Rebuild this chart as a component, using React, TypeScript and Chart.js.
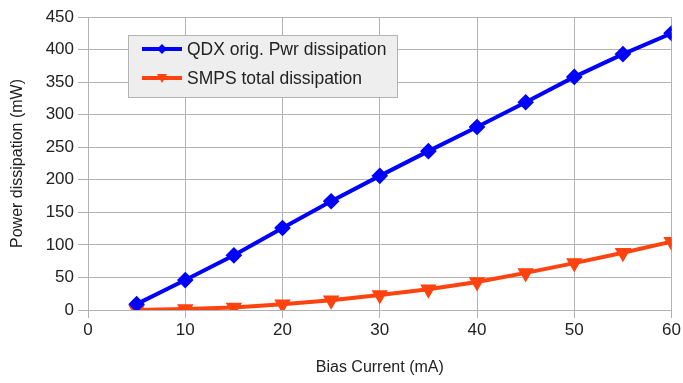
import React, { useEffect, useRef } from "react";
import { Chart, registerables } from "chart.js";

Chart.register(...registerables);

const biasCurrent = [5, 10, 15, 20, 25, 30, 35, 40, 45, 50, 55, 60];
const qdxPower = [9, 46, 84, 126, 167, 206, 244, 281, 319, 358, 393, 425];
const smpsPower = [0, 1.5, 4, 9, 15, 23, 32, 43, 57, 72, 88, 105];
const seriesNames = ["QDX orig. Pwr dissipation", "SMPS total dissipation"];
const xTitle = "Bias Current (mA)";
const yTitle = "Power dissipation (mW)";

const FONT = "'Liberation Sans', Arial, sans-serif";
const GRID = "#b3b3b3";

const legendBoxPlugin = {
  id: "legendBox",
  afterDraw(chart: any) {
    const ctx = chart.ctx;
    const area = chart.chartArea;
    const x0 = area.left + 40;
    const y0 = area.top + 18;
    const w = 269;
    const h = 62;
    ctx.save();
    ctx.fillStyle = "#eeeeee";
    ctx.fillRect(x0, y0, w, h);
    ctx.strokeStyle = GRID;
    ctx.lineWidth = 1;
    ctx.strokeRect(x0 + 0.5, y0 + 0.5, w, h);
    chart.data.datasets.forEach((ds: any, i: number) => {
      const cy = y0 + 14 + i * 29;
      ctx.strokeStyle = ds.borderColor;
      ctx.lineWidth = 4;
      ctx.beginPath();
      ctx.moveTo(x0 + 14, cy);
      ctx.lineTo(x0 + 54, cy);
      ctx.stroke();
      ctx.fillStyle = ds.borderColor;
      ctx.beginPath();
      const mx = x0 + 34;
      if (i === 0) {
        ctx.moveTo(mx, cy - 5);
        ctx.lineTo(mx + 5, cy);
        ctx.lineTo(mx, cy + 5);
        ctx.lineTo(mx - 5, cy);
      } else {
        ctx.moveTo(mx - 5, cy - 4);
        ctx.lineTo(mx + 5, cy - 4);
        ctx.lineTo(mx, cy + 5);
      }
      ctx.closePath();
      ctx.fill();
      ctx.fillStyle = "#222222";
      ctx.font = `17.5px ${FONT}`;
      ctx.textBaseline = "middle";
      ctx.textAlign = "left";
      ctx.fillText(ds.label, x0 + 59, cy + 1);
    });
    ctx.restore();
  },
};

export default function App() {
  const ref = useRef<HTMLCanvasElement | null>(null);
  useEffect(() => {
    if (!ref.current) return;
    const chart = new Chart(ref.current, {
      type: "line",
      data: {
        datasets: [
          {
            label: seriesNames[0],
            data: biasCurrent.map((x, i) => ({ x, y: qdxPower[i] })),
            borderColor: "#0000ff",
            backgroundColor: "#0000ff",
            borderWidth: 4,
            pointStyle: "rectRot",
            pointRadius: 5.5,
            pointHoverRadius: 5.5,
          },
          {
            label: seriesNames[1],
            data: biasCurrent.map((x, i) => ({ x, y: smpsPower[i] })),
            borderColor: "#ff420e",
            backgroundColor: "#ff420e",
            borderWidth: 4,
            pointStyle: "triangle",
            rotation: 180,
            pointRadius: 5.5,
            pointHoverRadius: 5.5,
          },
        ],
      },
      options: {
        animation: false,
        responsive: false,
        maintainAspectRatio: false,
        layout: { padding: { top: 17, right: 11, left: 0, bottom: 0 } },
        plugins: { legend: { display: false }, tooltip: { enabled: false } },
        scales: {
          x: {
            type: "linear",
            min: 0,
            max: 60,
            ticks: { stepSize: 10, color: "#222222", font: { family: FONT, size: 17 }, padding: 2 },
            grid: { color: GRID, tickLength: 8, tickColor: GRID },
            border: { color: GRID },
            title: { display: true, text: xTitle, color: "#222222", font: { family: FONT, size: 16 }, padding: { top: 4, bottom: 6 } },
            afterFit: (s: any) => { s.height = 73; },
          },
          y: {
            min: 0,
            max: 450,
            ticks: { stepSize: 50, color: "#222222", font: { family: FONT, size: 17 }, padding: 4 },
            grid: { color: GRID, tickLength: 10, tickColor: GRID },
            border: { color: GRID },
            title: { display: true, text: yTitle, color: "#222222", font: { family: FONT, size: 16 }, padding: { top: 8, bottom: 0 } },
            afterFit: (s: any) => { s.width = 88; },
          },
        },
      },
      plugins: [legendBoxPlugin],
    });
    return () => chart.destroy();
  }, []);
  return (
    <div style={{ position: "fixed", left: 0, top: 0, width: 683, height: 383, background: "#fff" }}>
      <canvas ref={ref} width={683} height={383} style={{ width: 683, height: 383 }} />
    </div>
  );
}
